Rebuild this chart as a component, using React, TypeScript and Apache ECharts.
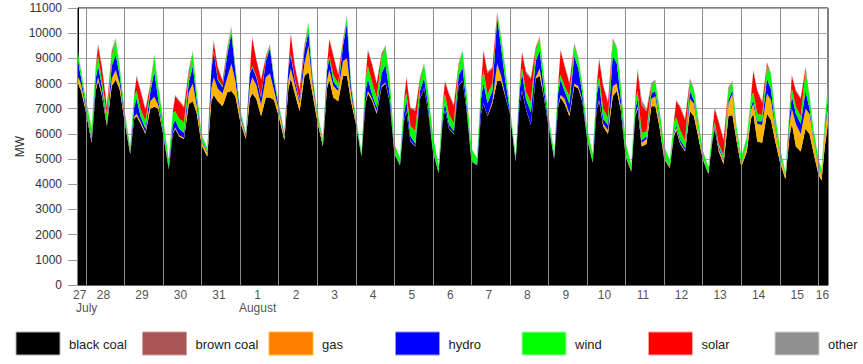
import React, { useEffect, useRef } from "react";
import * as echarts from "echarts";

// ---------- data ----------
// sample hours: first partial day (Jul 27), full days (Jul 28 .. Aug 15), last partial day (Aug 16)
const firstDayHours = [19, 21];
const sampleHours = [0, 3.5, 6, 7.5, 10, 13, 16, 18.5, 21];
const lastDayHours = [0, 2, 4, 6];
const fullDays = 19;

const dayLabels = ["27", "28", "29", "30", "31", "1", "2", "3", "4", "5", "6", "7", "8", "9", "10", "11", "12", "13", "14", "15", "16"];
const monthLabels = ["July", "August"];

const seriesNames = ["black coal", "brown coal", "gas", "hydro", "wind", "solar", "other"];

const blackCoal = [
  7990, 7700,
  6850, 5650, 7700, 8100, 7500, 6300, 7900, 8150, 7750,
  6500, 5200, 6600, 6700, 6400, 6000, 7000, 7080, 7000,
  6000, 4600, 6000, 6200, 5900, 5800, 7200, 7300, 6800,
  5550, 5100, 7300, 7550, 7300, 7100, 7650, 7700, 7500,
  6500, 5800, 7400, 7600, 7400, 6700, 7450, 7450, 7350,
  6700, 5750, 7800, 8200, 7600, 6900, 8300, 8450, 7600,
  6500, 5500, 7800, 8150, 7450, 7300, 8300, 8300, 7300,
  6400, 5100, 7200, 7600, 7350, 6800, 7850, 8000, 7300,
  5200, 4750, 6500, 6900, 5700, 5500, 7400, 7800, 6900,
  5300, 4450, 6400, 6950, 6200, 6000, 7900, 8100, 6900,
  4900, 4750, 6800, 7200, 6700, 7200, 8100, 8100, 7500,
  6800, 4900, 7200, 7700, 6950, 6350, 8200, 8300, 7500,
  6300, 5000, 7100, 7450, 7200, 6700, 7900, 7800, 7300,
  5800, 4850, 7000, 7300, 6300, 6000, 7500, 7700, 6950,
  5100, 4500, 6700, 7000, 5500, 5600, 7100, 7100, 6300,
  5000, 4650, 5900, 6150, 5600, 5300, 6900, 6700, 5950,
  5000, 4400, 5700, 6200, 5300, 4800, 6700, 6750, 5750,
  4700, 5300, 6600, 6800, 5700, 5650, 6800, 6550, 5750,
  4900, 4200, 5900, 6400, 5500, 5300, 6200, 6000, 5250,
  4400, 4150, 5500, 6400,
];

const brownCoal = [
  0, 0,
  0, 0, 0, 0, 0, 0, 0, 0, 0,
  0, 0, 0, 0, 0, 0, 0, 0, 0,
  0, 0, 0, 0, 0, 0, 0, 0, 0,
  0, 0, 0, 0, 0, 0, 0, 0, 0,
  0, 0, 0, 0, 0, 0, 0, 0, 0,
  0, 0, 0, 0, 0, 0, 0, 0, 0,
  0, 0, 0, 0, 0, 0, 0, 0, 0,
  0, 0, 0, 0, 0, 0, 0, 0, 0,
  0, 0, 0, 0, 0, 0, 0, 0, 0,
  0, 0, 0, 0, 0, 0, 0, 0, 0,
  0, 0, 0, 0, 0, 0, 0, 0, 0,
  0, 0, 0, 0, 0, 0, 0, 0, 0,
  0, 0, 0, 0, 0, 0, 0, 0, 0,
  0, 0, 0, 0, 0, 0, 0, 0, 0,
  0, 0, 0, 0, 0, 0, 0, 0, 0,
  0, 0, 0, 0, 0, 0, 0, 0, 0,
  0, 0, 0, 0, 0, 0, 0, 0, 0,
  0, 0, 0, 0, 0, 0, 0, 0, 0,
  0, 0, 0, 0, 0, 0, 0, 0, 0,
  0, 0, 0, 0,
];

const gas = [
  310, 250,
  100, 80, 120, 150, 100, 60, 300, 390, 250,
  100, 60, 80, 100, 80, 60, 300, 400, 150,
  60, 40, 50, 50, 50, 50, 450, 700, 300,
  150, 150, 500, 700, 500, 500, 600, 1100, 600,
  200, 120, 500, 650, 550, 450, 800, 950, 400,
  250, 150, 350, 400, 350, 300, 500, 1050, 400,
  200, 100, 300, 400, 450, 400, 600, 700, 300,
  50, 20, 80, 100, 80, 100, 50, 50, 40,
  20, 10, 20, 30, 20, 20, 20, 20, 20,
  20, 10, 20, 20, 20, 20, 20, 20, 20,
  20, 10, 20, 20, 20, 100, 700, 200, 50,
  20, 10, 20, 20, 20, 20, 50, 300, 50,
  20, 10, 50, 100, 200, 100, 100, 100, 60,
  30, 20, 50, 50, 100, 150, 400, 300, 150,
  50, 30, 80, 100, 150, 200, 300, 400, 200,
  50, 30, 80, 100, 50, 50, 500, 500, 250,
  20, 20, 50, 50, 100, 150, 500, 850, 200,
  100, 250, 350, 400, 700, 700, 800, 800, 500,
  300, 150, 450, 600, 900, 700, 800, 800, 500,
  300, 200, 600, 700,
];

const hydro = [
  570, 250,
  100, 80, 350, 450, 250, 60, 500, 600, 300,
  100, 60, 400, 600, 200, 150, 350, 1000, 200,
  100, 60, 300, 300, 250, 200, 400, 700, 200,
  50, 50, 700, 1000, 350, 250, 900, 1200, 400,
  100, 60, 500, 400, 300, 300, 650, 1000, 400,
  100, 80, 450, 500, 200, 100, 500, 550, 200,
  50, 50, 400, 450, 200, 100, 600, 1400, 250,
  50, 20, 400, 500, 150, 150, 500, 700, 300,
  30, 20, 300, 400, 200, 100, 300, 400, 250,
  50, 20, 200, 250, 150, 100, 400, 500, 200,
  30, 20, 600, 800, 500, 400, 1800, 1100, 600,
  80, 20, 500, 700, 400, 500, 650, 700, 300,
  100, 30, 500, 600, 300, 400, 1100, 700, 250,
  50, 30, 500, 700, 200, 200, 1200, 800, 300,
  30, 20, 200, 300, 100, 100, 200, 200, 100,
  30, 20, 80, 100, 100, 100, 300, 150, 50,
  20, 20, 80, 100, 100, 50, 150, 150, 50,
  30, 30, 100, 150, 100, 150, 600, 400, 100,
  30, 20, 300, 500, 400, 400, 700, 200, 50,
  30, 30, 100, 200,
];

const wind = [
  330, 250,
  250, 400, 450, 400, 250, 350, 400, 590, 320,
  200, 150, 450, 300, 300, 300, 200, 600, 500,
  400, 280, 500, 350, 400, 400, 300, 530, 300,
  200, 120, 100, 50, 50, 50, 200, 200, 150,
  150, 50, 50, 50, 50, 50, 50, 100, 100,
  150, 50, 50, 50, 50, 50, 100, 300, 150,
  100, 150, 150, 100, 250, 200, 100, 250, 150,
  150, 150, 500, 500, 500, 400, 650, 700, 600,
  350, 250, 500, 300, 400, 500, 400, 550, 500,
  600, 250, 500, 350, 400, 300, 400, 650, 500,
  450, 250, 550, 500, 350, 300, 150, 400, 450,
  150, 200, 300, 200, 300, 400, 400, 500, 500,
  250, 200, 300, 200, 200, 300, 400, 400, 350,
  300, 300, 350, 200, 400, 300, 600, 600, 500,
  450, 230, 400, 300, 300, 200, 300, 400, 420,
  420, 250, 400, 300, 400, 300, 400, 400, 400,
  300, 250, 300, 100, 100, 150, 400, 300, 300,
  250, 300, 400, 300, 300, 250, 500, 600, 450,
  250, 100, 300, 300, 300, 300, 800, 500, 350,
  300, 200, 300, 650,
];

const solar = [
  0, 0,
  0, 0, 0, 400, 500, 300, 150, 0, 0,
  0, 0, 0, 550, 700, 450, 100, 0, 0,
  0, 0, 0, 600, 700, 600, 150, 0, 0,
  0, 0, 0, 350, 450, 200, 50, 0, 0,
  0, 0, 0, 1100, 650, 650, 100, 0, 0,
  0, 0, 0, 800, 500, 400, 100, 0, 0,
  0, 0, 0, 650, 750, 350, 100, 0, 0,
  0, 0, 0, 600, 700, 550, 100, 0, 0,
  0, 0, 0, 600, 700, 800, 100, 0, 0,
  0, 0, 0, 500, 800, 700, 50, 0, 0,
  0, 0, 0, 750, 850, 600, 50, 0, 0,
  0, 0, 0, 600, 750, 900, 100, 0, 0,
  0, 0, 0, 950, 800, 500, 50, 0, 0,
  0, 0, 0, 700, 900, 600, 50, 0, 0,
  0, 0, 0, 800, 1100, 800, 50, 0, 0,
  0, 0, 0, 650, 900, 800, 50, 0, 0,
  0, 0, 0, 550, 850, 600, 50, 0, 0,
  0, 0, 0, 850, 900, 500, 100, 0, 0,
  0, 0, 0, 500, 600, 700, 100, 0, 0,
  0, 0, 0, 0,
];

const other = [
  70, 60,
  50, 50, 60, 80, 70, 60, 80, 70, 60,
  50, 30, 60, 80, 70, 50, 60, 70, 50,
  40, 20, 50, 50, 50, 50, 80, 70, 50,
  40, 30, 50, 80, 50, 50, 70, 80, 50,
  50, 20, 50, 60, 50, 50, 60, 60, 50,
  50, 20, 50, 50, 50, 50, 60, 80, 50,
  50, 20, 50, 50, 50, 50, 60, 80, 40,
  30, 20, 50, 60, 60, 50, 60, 70, 50,
  20, 20, 50, 60, 50, 50, 50, 50, 40,
  30, 20, 50, 50, 50, 50, 60, 60, 40,
  30, 20, 50, 60, 60, 60, 60, 80, 60,
  30, 20, 50, 60, 80, 80, 60, 70, 50,
  30, 20, 50, 60, 60, 50, 60, 60, 40,
  30, 20, 50, 60, 60, 50, 60, 60, 50,
  30, 20, 60, 100, 200, 100, 80, 60, 60,
  30, 20, 50, 60, 60, 50, 60, 60, 50,
  20, 20, 40, 50, 50, 50, 60, 60, 30,
  20, 30, 50, 50, 50, 50, 60, 60, 40,
  20, 20, 50, 50, 50, 50, 60, 50, 30,
  20, 20, 30, 50,
];

const seriesValues = [blackCoal, brownCoal, gas, hydro, wind, solar, other];

// ---------- styles ----------
const areaColors = ["#000000", "#aa5555", "#ffb400", "#0000ff", "#00ff00", "#ff0000", "#8f8f8f"];
const swatchColors = ["#000000", "#aa5555", "#ff8000", "#0000ff", "#00ff00", "#ff0000", "#909090"];
const swatchBorders = ["#b0b0b0", "#d0a0a0", "#ffb830", "#9090ff", "#a0ffa0", "#ffa0a0", "#d0d0d0"];
const FONT = 'Arial, "Liberation Sans", Helvetica, sans-serif';
const DAY_MS = 86400000;
const BASE = Date.UTC(2019, 6, 28); // Jul 28 00:00

export default function App() {
  const ref = useRef<HTMLDivElement | null>(null);

  useEffect(() => {
    document.body.style.margin = "0";
    if (!ref.current) return;
    const chart = echarts.init(ref.current, null, { renderer: "svg" });

    const t = (days: number) => BASE + days * DAY_MS;

    const xs: number[] = [];
    firstDayHours.forEach((h) => xs.push(t(-1 + h / 24)));
    for (let d = 0; d < fullDays; d++) sampleHours.forEach((h) => xs.push(t(d + h / 24)));
    lastDayHours.forEach((h) => xs.push(t(fullDays + h / 24)));

    const dMin = -1 + firstDayHours[0] / 24;
    const dMax = fullDays + lastDayHours[lastDayHours.length - 1] / 24;

    const dayLabelX = dayLabels.map((_, i) => {
      if (i === 0) return t(dMin / 2 - 0.06);
      if (i === dayLabels.length - 1) return t((fullDays + dMax) / 2 - 0.02);
      return t(i - 1 + 0.45);
    });

    const areaSeries = seriesNames.map((name, si) => ({
      name,
      type: "line",
      stack: "total",
      symbol: "none",
      silent: true,
      lineStyle: { width: 0 },
      areaStyle: { color: areaColors[si], opacity: 1 },
      data: seriesValues[si].map((v, i) => [xs[i], v]),
      ...(si === seriesNames.length - 1
        ? {
            markLine: {
              silent: true,
              symbol: ["none", "none"],
              label: { show: false },
              lineStyle: { color: "#8a8a8a", width: 1, type: "solid" },
              data: Array.from({ length: fullDays + 1 }, (_, d) => ({ xAxis: t(d) })),
            },
          }
        : {}),
    }));

    const legendGraphics: any[] = [];
    seriesNames.forEach((name, i) => {
      const x0 = 16 + i * 126.5;
      legendGraphics.push({
        type: "rect",
        shape: { x: x0, y: 332, width: 44, height: 23 },
        style: { fill: swatchColors[i], stroke: swatchBorders[i], lineWidth: 1 },
      });
      legendGraphics.push({
        type: "text",
        style: {
          text: name,
          x: x0 + 53,
          y: 344,
          fill: "#222",
          font: `13px ${FONT}`,
          verticalAlign: "middle",
          align: "left",
        },
      });
    });

    const labelCommon = { color: "#222", fontSize: 12, fontFamily: FONT, lineHeight: 12 };

    chart.setOption({
      animation: false,
      backgroundColor: "#ffffff",
      grid: { left: 78, right: 35, top: 8, bottom: 79, show: true, borderColor: "#000", borderWidth: 1 },
      xAxis: {
        type: "time",
        min: t(dMin),
        max: t(dMax),
        axisLabel: { show: false },
        axisTick: { show: false },
        splitLine: { show: false },
        axisLine: { show: true, lineStyle: { color: "#666" } },
      },
      yAxis: {
        type: "value",
        min: 0,
        max: 11000,
        interval: 1000,
        name: "MW",
        nameLocation: "middle",
        nameGap: 52,
        nameRotate: 90,
        nameMoveOverlap: false,
        nameTextStyle: { color: "#333", fontSize: 12, fontFamily: FONT },
        axisLine: { show: true, lineStyle: { color: "#000" } },
        axisTick: { show: true, length: 10, lineStyle: { color: "#999" } },
        axisLabel: { color: "#333", fontSize: 12, fontFamily: FONT, margin: 16, formatter: (v: number) => String(v) },
        splitLine: { show: true, lineStyle: { color: "#a6a6a6", width: 1 } },
      },
      series: [
        ...areaSeries,
        {
          type: "scatter",
          symbolSize: 0,
          silent: true,
          clip: false,
          data: dayLabelX.map((x) => [x, 0]),
          label: {
            show: true,
            position: "bottom",
            distance: 4,
            ...labelCommon,
            formatter: (p: any) => dayLabels[p.dataIndex],
          },
          z: 5,
        },
        {
          type: "scatter",
          symbolSize: 0,
          silent: true,
          clip: false,
          data: [
            { value: [t(dMin), 0], label: { align: "left", offset: [-2, 0] } },
            { value: [dayLabelX[5], 0] },
          ],
          label: {
            show: true,
            position: "bottom",
            distance: 17,
            ...labelCommon,
            formatter: (p: any) => monthLabels[p.dataIndex],
          },
          z: 5,
        },
      ],
      graphic: legendGraphics,
    });

    return () => chart.dispose();
  }, []);

  return <div ref={ref} style={{ width: 863, height: 364, position: "absolute", left: 0, top: 0 }} />;
}
